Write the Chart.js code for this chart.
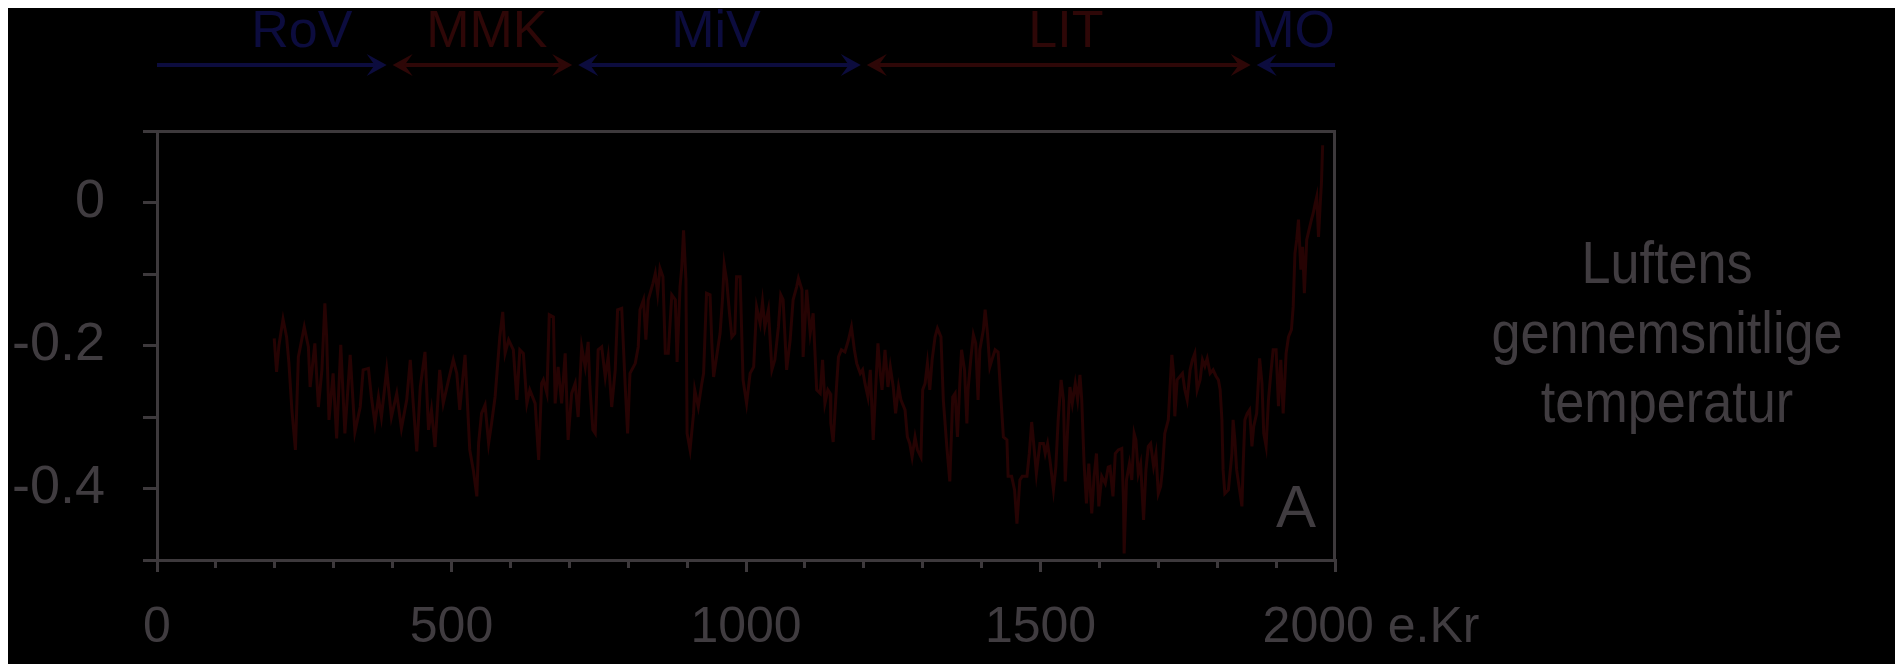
<!DOCTYPE html>
<html>
<head>
<meta charset="utf-8">
<script src="https://cdn.jsdelivr.net/npm/chart.js@4.4.1/dist/chart.umd.min.js"></script>
<style>
  html, body { overflow: hidden; background: #fff; }
  body { margin: 8px; }
  #wrap { width: 1903px; height: 664px; background: #000; position: relative; }
</style>
</head>
<body>
<div id="wrap"><canvas id="temp"></canvas></div>
<script>
// Luftens gennemsnitlige temperatur, år 200 - 1980
const YEARS = [
  199, 203, 207, 214, 220, 224, 229, 235, 240, 250, 257, 260, 268, 274, 280, 285, 288, 292, 299, 305,
  312, 319, 328, 336, 345, 350, 359, 364, 370, 376, 381, 390, 398, 407, 415, 424, 430, 435, 441, 447,
  455, 461, 466, 472, 480, 486, 495, 503, 509, 514, 523, 531, 537, 543, 546, 551, 557, 563, 568, 574,
  582, 587, 591, 597, 605, 611, 616, 622, 628, 633, 642, 648, 653,
  656, 662, 666, 673, 676, 681, 687, 693, 698, 704, 710, 715, 721, 727, 732, 735, 740, 744, 749, 755,
  761, 766, 772, 778, 782, 789, 795, 799, 803, 812, 817, 820, 826, 830, 834, 842, 846, 850, 854, 859,
  863, 868, 874, 880, 883, 888, 891, 894, 898, 900, 905, 911, 913, 919, 925, 928, 933, 939, 942, 945,
  950, 956, 960, 963, 967, 972, 976, 981, 984, 990, 995, 1001, 1007, 1013, 1018, 1024, 1028, 1032, 1038, 1044,
  1049, 1055, 1059, 1063, 1069, 1075, 1080, 1086, 1089, 1095, 1097, 1103, 1109, 1114, 1120, 1126, 1130,
  1134, 1139, 1143, 1144, 1148, 1154, 1157, 1162, 1168, 1174, 1179, 1184, 1188, 1194, 1198, 1202, 1207, 1211, 1216, 1220,
  1224, 1228, 1231, 1236, 1241, 1245, 1250, 1254, 1259, 1263, 1270, 1274, 1278, 1282, 1287, 1291, 1297, 1300, 1304, 1308,
  1312, 1316, 1321, 1325, 1331, 1335, 1341, 1346, 1351, 1355, 1359, 1363, 1366, 1371, 1375, 1377, 1382, 1386, 1390, 1394,
  1397, 1403, 1406, 1410, 1414, 1419, 1423, 1428, 1433, 1437, 1443, 1445, 1451, 1456, 1460, 1462, 1465, 1469, 1477, 1481,
  1485, 1490, 1493, 1499, 1505, 1508, 1512, 1516, 1522, 1526, 1530, 1535, 1539, 1542, 1546, 1550, 1554, 1559, 1563, 1567,
  1570, 1574, 1578, 1582, 1587, 1591, 1595, 1599, 1604, 1610, 1615,
  1618, 1623, 1627, 1632, 1638, 1641, 1642, 1646, 1651, 1655, 1659, 1662, 1666, 1670, 1675, 1679, 1683, 1687, 1692, 1696,
  1700, 1704, 1707, 1711, 1717, 1720, 1723, 1726, 1728, 1732, 1737, 1741, 1745, 1749, 1754, 1758, 1762, 1766, 1771, 1775,
  1779, 1783, 1788, 1793, 1798, 1802, 1805, 1808, 1810, 1813, 1819, 1825, 1827, 1830, 1833, 1838, 1842, 1844, 1847, 1851,
  1855, 1859, 1862, 1867, 1872, 1876, 1879, 1883, 1887, 1891, 1895, 1900, 1904, 1908, 1912, 1917, 1921, 1926, 1929, 1932,
  1935, 1938, 1942, 1945, 1948, 1952, 1956, 1960, 1963, 1966, 1969, 1972, 1975, 1977, 1979
];
const TEMPS = [
  -0.190, -0.237, -0.200, -0.163, -0.188, -0.225, -0.290, -0.346, -0.216, -0.174, -0.202, -0.258, -0.197, -0.286, -0.234, -0.141, -0.188, -0.304, -0.239, -0.330,
  -0.199, -0.323, -0.213, -0.321, -0.286, -0.234, -0.232, -0.272, -0.309, -0.272, -0.300, -0.234, -0.300, -0.267, -0.316, -0.276, -0.220, -0.281, -0.348, -0.258,
  -0.209, -0.318, -0.290, -0.342, -0.234, -0.281, -0.248, -0.220, -0.239, -0.290, -0.213, -0.346, -0.374, -0.411, -0.337, -0.295, -0.283, -0.337, -0.309, -0.272,
  -0.188, -0.153, -0.211, -0.192, -0.206, -0.276, -0.206, -0.211, -0.281, -0.262, -0.281, -0.360, -0.253,
  -0.248, -0.267, -0.157, -0.160, -0.281, -0.230, -0.281, -0.211, -0.332, -0.267, -0.253, -0.300, -0.202, -0.230, -0.195, -0.258, -0.318, -0.323, -0.206, -0.202,
  -0.244, -0.216, -0.286, -0.234, -0.150, -0.148, -0.258, -0.323, -0.239, -0.225, -0.202, -0.150, -0.136, -0.192, -0.136, -0.113, -0.099, -0.127, -0.092, -0.104,
  -0.211, -0.211, -0.129, -0.136, -0.223, -0.118, -0.090, -0.039, -0.108, -0.323, -0.346, -0.295, -0.262, -0.286, -0.253, -0.239, -0.127, -0.129, -0.197, -0.244,
  -0.216, -0.183, -0.136, -0.087, -0.108, -0.155, -0.188, -0.183, -0.104, -0.104, -0.248, -0.281, -0.239, -0.230, -0.146, -0.169, -0.139, -0.174, -0.150, -0.234,
  -0.220, -0.174, -0.129, -0.136, -0.234, -0.192, -0.136, -0.118, -0.106, -0.122, -0.216, -0.122, -0.183, -0.155, -0.262, -0.267, -0.220,
  -0.281, -0.262, -0.267, -0.309, -0.335, -0.253, -0.216, -0.206, -0.209, -0.192, -0.174, -0.206, -0.225, -0.239, -0.234, -0.253, -0.272, -0.234, -0.332, -0.262,
  -0.197, -0.239, -0.262, -0.206, -0.258, -0.230, -0.258, -0.295, -0.258, -0.276, -0.290, -0.328, -0.337, -0.356, -0.328, -0.346, -0.356, -0.262, -0.253, -0.225,
  -0.262, -0.220, -0.188, -0.176, -0.188, -0.276, -0.342, -0.390, -0.272, -0.267, -0.328, -0.253, -0.206, -0.234, -0.309, -0.262, -0.216, -0.185, -0.197, -0.276,
  -0.206, -0.178, -0.150, -0.183, -0.230, -0.216, -0.206, -0.209, -0.276, -0.328, -0.332, -0.383, -0.383, -0.402, -0.449, -0.425, -0.388, -0.383, -0.383, -0.351,
  -0.307, -0.351, -0.379, -0.337, -0.337, -0.351, -0.337, -0.360, -0.402, -0.370, -0.304, -0.248, -0.276, -0.390, -0.318, -0.258, -0.281, -0.253, -0.276, -0.241,
  -0.276, -0.365, -0.421, -0.365, -0.435, -0.383, -0.351, -0.425, -0.383, -0.393, -0.370,
  -0.369, -0.411, -0.351, -0.346, -0.344, -0.421, -0.491, -0.388, -0.365, -0.388, -0.323, -0.332, -0.379, -0.365, -0.444, -0.374, -0.341, -0.337, -0.369, -0.351,
  -0.407, -0.397, -0.374, -0.323, -0.304, -0.257, -0.213, -0.239, -0.299, -0.248, -0.243, -0.239, -0.262, -0.276, -0.234, -0.220, -0.211, -0.262, -0.248, -0.220,
  -0.229, -0.218, -0.239, -0.234, -0.243, -0.248, -0.262, -0.304, -0.374, -0.407, -0.402, -0.351, -0.304, -0.332, -0.374, -0.402, -0.425, -0.369, -0.304, -0.295,
  -0.290, -0.341, -0.313, -0.295, -0.218, -0.253, -0.323, -0.341, -0.276, -0.239, -0.206, -0.206, -0.285, -0.220, -0.295, -0.211, -0.188, -0.178, -0.146, -0.071,
  -0.052, -0.024, -0.094, -0.062, -0.127, -0.052, -0.038, -0.024, -0.015, -0.003, 0.008, -0.048, -0.001, 0.027, 0.080
];

// Perioder over figuren
const PERIOD_NAMES = ['RoV', 'MMK', 'MiV', 'LIT', 'MO'];
const PERIOD_FROM = [0, 395, 710, 1200, 1862];
const PERIOD_TO = [395, 710, 1200, 1862, 2000];
const PERIOD_LABEL_AT = [246, 560, 949, 1543, 1929];

const Y_LABELS = [0, -0.2, -0.4];
const X_MIN = 0, X_MAX = 2000, Y_MIN = -0.5, Y_MAX = 0.1;
const RIGHT_TITLE = ['Luftens', 'gennemsnitlige', 'temperatur'];
const CORNER_LETTER = 'A';
const X_UNIT = 'e.Kr';

const FONT = '"Liberation Sans", Arial, sans-serif';
const GREY = '#3d393c';
const TEXT = '#403c40';
const LINE = '#260303';
const BLUE = '#0c0c3e';
const RED = '#2e0707';

const decor = {
  id: 'decor',
  afterDraw(chart) {
    const { ctx, chartArea: ca } = chart;
    const xs = chart.scales.x;
    ctx.save();

    // ramme top + højre
    ctx.strokeStyle = GREY; ctx.lineWidth = 3;
    ctx.beginPath();
    ctx.moveTo(ca.left, ca.top + 0.5);
    ctx.lineTo(ca.right - 0.5, ca.top + 0.5);
    ctx.lineTo(ca.right - 0.5, ca.bottom);
    ctx.stroke();

    // perioder med pile
    const ay = 57;
    PERIOD_NAMES.forEach((name, i) => {
      const col = i % 2 ? RED : BLUE;
      let x1 = xs.getPixelForValue(PERIOD_FROM[i]);
      let x2 = xs.getPixelForValue(PERIOD_TO[i]);
      const headL = PERIOD_FROM[i] > X_MIN, headR = PERIOD_TO[i] < X_MAX;
      if (headL) x1 += 3;
      if (headR) x2 -= 3;
      ctx.strokeStyle = col; ctx.fillStyle = col; ctx.lineWidth = 4;
      ctx.beginPath();
      ctx.moveTo(headL ? x1 + 10 : x1, ay);
      ctx.lineTo(headR ? x2 - 10 : x2, ay);
      ctx.stroke();
      const head = (tx, dir) => {
        ctx.beginPath();
        ctx.moveTo(tx, ay);
        ctx.lineTo(tx - dir * 20, ay - 11);
        ctx.lineTo(tx - dir * 12, ay);
        ctx.lineTo(tx - dir * 20, ay + 11);
        ctx.closePath();
        ctx.fill();
      };
      if (headR) head(x2, 1);
      if (headL) head(x1, -1);
      ctx.font = '52px ' + FONT;
      ctx.textAlign = 'center'; ctx.textBaseline = 'alphabetic';
      ctx.fillText(name, xs.getPixelForValue(PERIOD_LABEL_AT[i]), 39);
    });

    // 2000 e.Kr
    ctx.fillStyle = TEXT;
    ctx.font = '50px ' + FONT;
    ctx.textAlign = 'center'; ctx.textBaseline = 'middle';
    ctx.fillText(X_MAX + ' ' + X_UNIT, xs.getPixelForValue(X_MAX) + 36, xs.top + 12 + 26 + 30);

    // A
    ctx.font = '60px ' + FONT;
    ctx.textBaseline = 'alphabetic';
    ctx.fillText(CORNER_LETTER, ca.right - 39, ca.bottom - 33);

    // titel til højre
    RIGHT_TITLE.forEach((t, i) => {
      ctx.save();
      ctx.translate(ca.right + 332, 275 + i * 69.5);
      ctx.scale(0.87, 1);
      ctx.fillText(t, 0, 0);
      ctx.restore();
    });
    ctx.restore();
  }
};

new Chart(document.getElementById('temp'), {
  type: 'line',
  data: {
    datasets: [{
      data: YEARS.map((y, i) => ({ x: y, y: TEMPS[i] })),
      borderColor: LINE,
      borderWidth: 3,
      pointRadius: 0,
      tension: 0,
      xAxisID: 'x',
      yAxisID: 'y'
    }]
  },
  options: {
    responsive: true,
    maintainAspectRatio: false,
    animation: false,
    events: [],
    layout: { padding: { top: 123, right: 576, bottom: 0, left: 0 } },
    plugins: { legend: { display: false }, tooltip: { enabled: false } },
    scales: {
      x2: {
        type: 'linear', position: 'bottom', weight: 0,
        min: X_MIN, max: X_MAX,
        afterFit: s => { s.height = 0; },
        border: { display: false },
        grid: { drawOnChartArea: false, drawTicks: true, tickLength: 8, color: GREY, lineWidth: 3 },
        ticks: { stepSize: 100, maxTicksLimit: 100, autoSkip: false, display: false }
      },
      x: {
        type: 'linear', position: 'bottom', weight: 1,
        min: X_MIN, max: X_MAX,
        afterFit: s => { s.height = 112; },
        border: { display: true, color: GREY, width: 3 },
        grid: { drawOnChartArea: false, drawTicks: true, tickLength: 12, color: GREY, lineWidth: 3 },
        ticks: {
          stepSize: 500, maxTicksLimit: 100, autoSkip: false, maxRotation: 0,
          padding: 26, color: TEXT, font: { family: FONT, size: 50 },
          callback: v => v === X_MAX ? '' : String(v)
        }
      },
      y: {
        type: 'linear', position: 'left',
        min: Y_MIN, max: Y_MAX,
        afterFit: s => { s.width = 149; },
        border: { display: true, color: GREY, width: 3 },
        grid: { drawOnChartArea: false, drawTicks: true, tickLength: 14, color: GREY, lineWidth: 3 },
        ticks: {
          stepSize: 0.1, maxTicksLimit: 100, autoSkip: false,
          padding: 38, color: TEXT, font: { family: FONT, size: 54 },
          callback: v => {
            const r = Math.round(v * 10) / 10;
            return Y_LABELS.includes(r) ? String(r === 0 ? 0 : r) : '';
          }
        }
      }
    }
  },
  plugins: [decor]
});
</script>
</body>
</html>
